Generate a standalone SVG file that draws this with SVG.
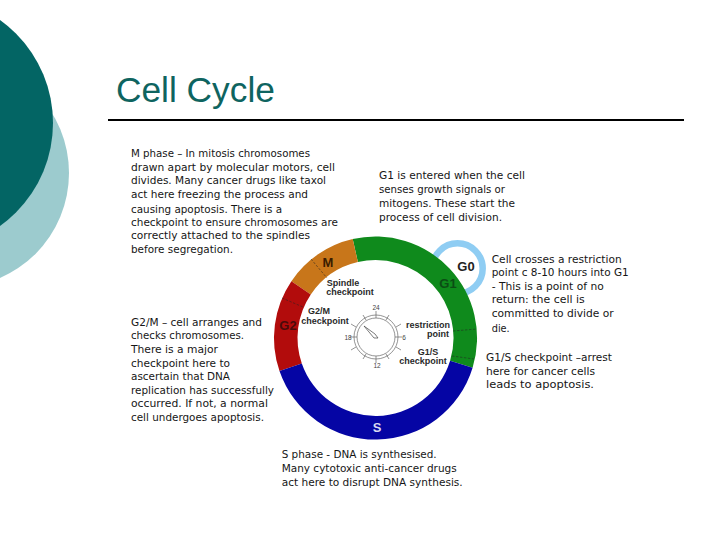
<svg xmlns="http://www.w3.org/2000/svg" width="720" height="540" viewBox="0 0 720 540">
<style>
text{font-family:"DejaVu Sans","Liberation Sans",sans-serif}
.b{font-size:10.8px;fill:#161616}
.l{font-family:"Liberation Sans",Arial,sans-serif;font-weight:bold;fill:#2a2a2a;font-size:9px;text-anchor:middle}
.p{font-family:"Liberation Sans",Arial,sans-serif;font-weight:bold;font-size:13px;text-anchor:middle}
.n{font-family:"Liberation Sans",Arial,sans-serif;font-size:6.5px;fill:#444;text-anchor:middle}
.d{fill:none;stroke:#222;stroke-width:.7;stroke-dasharray:2.5 1.5;opacity:.75}
</style>
<rect width="720" height="540" fill="#fff"/>
<g id="background">
<circle cx="-45.4" cy="173" r="114.4" fill="#9ccbce"/>
<circle cx="-73.6" cy="123" r="126.6" fill="#036564"/>
</g>
<g id="title">
<text x="116" y="102" font-size="35.3" fill="#0e6460" style="font-family:'Liberation Sans',Arial,sans-serif">Cell Cycle</text>
<rect x="108" y="119" width="576" height="2" fill="#000"/>
</g>
<g id="cycle">
<circle cx="457.5" cy="268.5" r="25.2" fill="none" stroke="#8fcdf3" stroke-width="6.5"/>
<path d="M352.7 239.1A101.5 101.5 0 0 1 472.6 367.7L450.1 360.8A78 78 0 0 0 357.9 262Z" fill="#0f8a1c"/>
<path d="M352.7 239.1A101.5 101.5 0 0 0 291.4 281.2L310.8 294.4A78 78 0 0 1 357.9 262Z" fill="#c8761a"/>
<path d="M291.4 281.2A101.5 101.5 0 0 0 279.5 371L301.8 363.4A78 78 0 0 1 310.8 294.4Z" fill="#b20c0c"/>
<path d="M279.5 371A101.5 101.5 0 0 0 472.6 367.7L450.1 360.8A78 78 0 0 1 301.8 363.4Z" fill="#0505a4"/>
<g id="checkpoint-marks">
<path class="d" d="M311 259L327 278"/>
<path class="d" d="M282 298L303 307"/>
<path class="d" d="M453 331L477 329"/>
<path class="d" d="M452 356L474 359"/>
</g>
<text class="p" x="328" y="266.5" fill="#3a1c00">M</text>
<text class="p" x="466" y="270.5" fill="#222">G0</text>
<text class="p" x="448" y="287.5" fill="#0b4d14">G1</text>
<text class="p" x="288" y="329.5" fill="#4a0a0a">G2</text>
<text class="p" x="377" y="431.5" fill="#d8d8f0">S</text>
<text class="l" x="343" y="285.5">Spindle</text>
<text class="l" x="350" y="294.5">checkpoint</text>
<text class="l" x="319" y="313.5">G2/M</text>
<text class="l" x="325" y="323.5">checkpoint</text>
<text class="l" x="428" y="327.5">restriction</text>
<text class="l" x="438" y="336.5">point</text>
<text class="l" x="428" y="355">G1/S</text>
<text class="l" x="423" y="363.5">checkpoint</text>
</g>
<g id="clock" fill="none" stroke="#666" stroke-width=".7">
<circle cx="376" cy="337" r="22"/>
<circle cx="376" cy="337" r="19"/>
<path d="M376 311V318M376 356V363M350 337H357M395 337H402M386 320L389 315M396 327L401 324M396 347L401 350M386 354L389 359M366 354L363 359M356 347L351 350M356 327L351 324M366 320L363 315"/>
<path d="M364 326L375 334L378 338L374 338Z" stroke="#444" fill="#fff"/>
</g>
<text class="n" x="376" y="310">24</text>
<text class="n" x="404" y="339.5">6</text>
<text class="n" x="377" y="367.5">12</text>
<text class="n" x="348" y="339.5">18</text>
<g id="text-m">
<text class="b" x="131" y="157" textLength="179" lengthAdjust="spacingAndGlyphs">M phase – In mitosis chromosomes</text>
<text class="b" x="131" y="171" textLength="204" lengthAdjust="spacingAndGlyphs">drawn apart by molecular motors, cell</text>
<text class="b" x="131" y="184" textLength="195" lengthAdjust="spacingAndGlyphs">divides. Many cancer drugs like taxol</text>
<text class="b" x="131" y="197.5" textLength="177" lengthAdjust="spacingAndGlyphs">act here freezing the process and</text>
<text class="b" x="131" y="212.5" textLength="151" lengthAdjust="spacingAndGlyphs">causing apoptosis. There is a</text>
<text class="b" x="131" y="226" textLength="207" lengthAdjust="spacingAndGlyphs">checkpoint to ensure chromosomes are</text>
<text class="b" x="131" y="239" textLength="179" lengthAdjust="spacingAndGlyphs">correctly attached to the spindles</text>
<text class="b" x="131" y="253" textLength="102" lengthAdjust="spacingAndGlyphs">before segregation.</text>
</g>
<g id="text-g1">
<text class="b" x="379" y="179" textLength="146" lengthAdjust="spacingAndGlyphs">G1 is entered when the cell</text>
<text class="b" x="379" y="193" textLength="126" lengthAdjust="spacingAndGlyphs">senses growth signals or</text>
<text class="b" x="379" y="207" textLength="136" lengthAdjust="spacingAndGlyphs">mitogens. These start the</text>
<text class="b" x="379" y="221" textLength="123" lengthAdjust="spacingAndGlyphs">process of cell division.</text>
</g>
<g id="text-restriction">
<text class="b" x="491.7" y="262.5" textLength="130" lengthAdjust="spacingAndGlyphs">Cell crosses a restriction</text>
<text class="b" x="491.7" y="276" textLength="137" lengthAdjust="spacingAndGlyphs">point c 8-10 hours into G1</text>
<text class="b" x="491.7" y="290" textLength="112" lengthAdjust="spacingAndGlyphs">- This is a point of no</text>
<text class="b" x="491.7" y="303" textLength="93" lengthAdjust="spacingAndGlyphs">return: the cell is</text>
<text class="b" x="491.7" y="317" textLength="122" lengthAdjust="spacingAndGlyphs">committed to divide or</text>
<text class="b" x="491.7" y="331.5" textLength="18" lengthAdjust="spacingAndGlyphs">die.</text>
</g>
<g id="text-g1s">
<text class="b" x="486" y="361" textLength="126" lengthAdjust="spacingAndGlyphs">G1/S checkpoint –arrest</text>
<text class="b" x="486" y="375" textLength="109" lengthAdjust="spacingAndGlyphs">here for cancer cells</text>
<text class="b" x="486" y="388" textLength="108" lengthAdjust="spacingAndGlyphs">leads to apoptosis.</text>
</g>
<g id="text-g2m">
<text class="b" x="131" y="325.5" textLength="131" lengthAdjust="spacingAndGlyphs">G2/M – cell arranges and</text>
<text class="b" x="131" y="338.5" textLength="113" lengthAdjust="spacingAndGlyphs">checks chromosomes.</text>
<text class="b" x="131" y="353" textLength="87" lengthAdjust="spacingAndGlyphs">There is a major</text>
<text class="b" x="131" y="366.5" textLength="99" lengthAdjust="spacingAndGlyphs">checkpoint here to</text>
<text class="b" x="131" y="380" textLength="99" lengthAdjust="spacingAndGlyphs">ascertain that DNA</text>
<text class="b" x="131" y="393.5" textLength="143" lengthAdjust="spacingAndGlyphs">replication has successfully</text>
<text class="b" x="131" y="407" textLength="137" lengthAdjust="spacingAndGlyphs">occurred. If not, a normal</text>
<text class="b" x="131" y="421" textLength="133" lengthAdjust="spacingAndGlyphs">cell undergoes apoptosis.</text>
</g>
<g id="text-s">
<text class="b" x="281.7" y="458" textLength="155" lengthAdjust="spacingAndGlyphs">S phase - DNA is synthesised.</text>
<text class="b" x="281.7" y="472" textLength="175" lengthAdjust="spacingAndGlyphs">Many cytotoxic anti-cancer drugs</text>
<text class="b" x="281.7" y="486" textLength="181" lengthAdjust="spacingAndGlyphs">act here to disrupt DNA synthesis.</text>
</g>
</svg>
